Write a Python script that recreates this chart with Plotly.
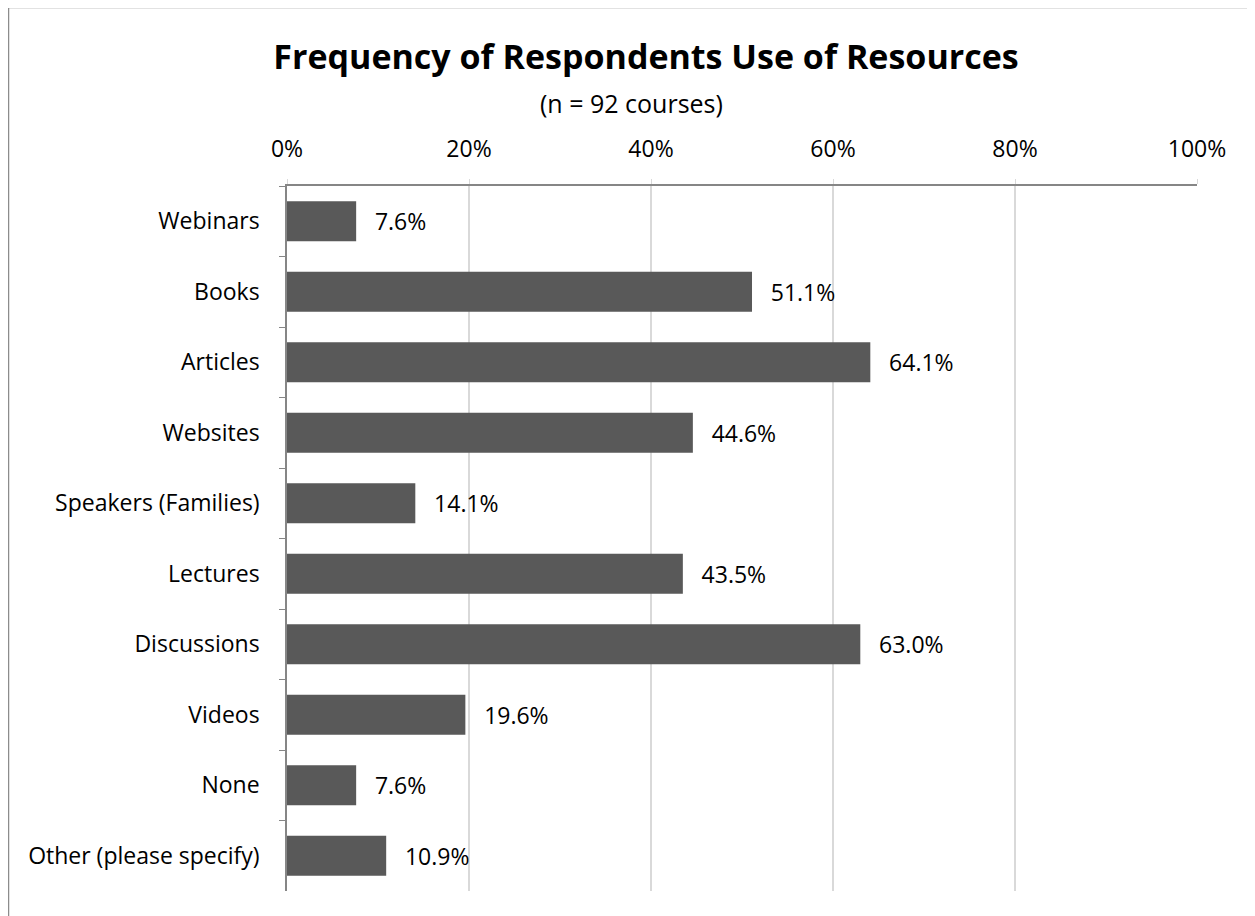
import plotly.graph_objects as go

categories = ["Webinars", "Books", "Articles", "Websites", "Speakers (Families)",
              "Lectures", "Discussions", "Videos", "None", "Other (please specify)"]
values = [0.076, 0.511, 0.641, 0.446, 0.141, 0.435, 0.630, 0.196, 0.076, 0.109]
x_ticks = [0, 0.2, 0.4, 0.6, 0.8, 1.0]
x_tick_labels = ["0%", "20%", "40%", "60%", "80%", "100%"]
title = "Frequency of Respondents Use of Resources"
subtitle = "(n = 92 courses)"

W, H = 1255, 916
L, R, T, B = 279, 1189, 178, 883
FONT = "Open Sans"

fig = go.Figure()
fig.add_trace(go.Bar(
    y=categories, x=values, orientation="h",
    marker=dict(color="#595959", line=dict(width=0)),
    text=[f"{v*100:.1f}%" for v in values],
    texttemplate="\u00a0\u00a0\u2009%{text}",
    textposition="outside",
    textfont=dict(family=FONT, size=23, color="#000000"),
    cliponaxis=False,
))

def px_x(p):
    return (p - L) / (R - L)

def px_y(p):
    return (B - p) / (B - T)

fig.update_layout(
    width=W, height=H,
    margin=dict(l=L, r=W - R, t=T, b=H - B),
    paper_bgcolor="white", plot_bgcolor="white",
    bargap=0.43,
    showlegend=False,
    font=dict(family=FONT, size=23, color="#000000"),
    title=dict(text=f"<b>{title}</b>", x=638 / W, xanchor="center",
               y=1 - 49 / H, yanchor="middle",
               font=dict(family=FONT, size=34, color="#000000")),
    xaxis=dict(side="top", range=[0, 1], tickvals=x_ticks, ticktext=x_tick_labels,
               showgrid=True, gridcolor="#d9d9d9", gridwidth=1.5,
               showline=True, linecolor="#868686", linewidth=1.5,
               ticks="outside", ticklen=5, tickcolor="#d9d9d9",
               ticklabelstandoff=13, zeroline=False,
               tickfont=dict(family=FONT, size=23)),
    yaxis=dict(autorange="reversed", type="category",
               showline=True, linecolor="#868686", linewidth=1.5,
               ticks="outside", ticklen=6, tickcolor="#868686", tickson="boundaries",
               ticklabelstandoff=21, showgrid=False,
               tickfont=dict(family=FONT, size=23)),
    annotations=[dict(text=subtitle, xref="paper", yref="paper",
                      x=px_x(623), y=px_y(95), xanchor="center", yanchor="middle",
                      showarrow=False, font=dict(family=FONT, size=25, color="#000000"))],
    shapes=[dict(type="rect", xref="paper", yref="paper",
                 x0=px_x(0.5), x1=px_x(1246), y0=px_y(940), y1=px_y(-0.5),
                 line=dict(color="#8c8c8c", width=1.5), layer="below")],
)

fig.write_html("out.html")
